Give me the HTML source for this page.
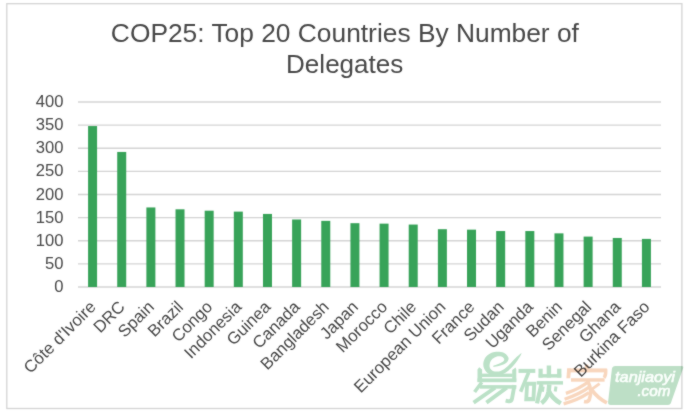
<!DOCTYPE html>
<html><head><meta charset="utf-8"><title>COP25 chart</title>
<style>html,body{margin:0;padding:0;background:#fff;}svg{display:block;}text{font-family:"Liberation Sans",sans-serif;fill:#484848;}</style></head><body>
<svg width="690" height="415" viewBox="0 0 690 415">
<defs><filter id="soft" x="0" y="0" width="690" height="415" filterUnits="userSpaceOnUse" color-interpolation-filters="sRGB"><feConvolveMatrix order="3" kernelMatrix="1 2 1 2 20 2 1 2 1" divisor="32" edgeMode="duplicate" preserveAlpha="true"/></filter></defs>
<g filter="url(#soft)">
<rect x="0" y="0" width="690" height="415" fill="#ffffff"/>
<rect x="6.8" y="3.7" width="675.1" height="404.8" fill="none" stroke="#d4d4d4" stroke-width="1.3"/>
<text x="344.9" y="42.3" font-size="26.35" text-anchor="middle">COP25: Top 20 Countries By Number of</text>
<text x="344.7" y="72.5" font-size="26.05" text-anchor="middle">Delegates</text>
<line x1="78.0" y1="287.00" x2="661.0" y2="287.00" stroke="#d4d4d4" stroke-width="1.3"/>
<text x="63.5" y="292.10" font-size="16.6" text-anchor="end">0</text>
<line x1="78.0" y1="263.88" x2="661.0" y2="263.88" stroke="#d4d4d4" stroke-width="1.3"/>
<text x="63.5" y="268.98" font-size="16.6" text-anchor="end">50</text>
<line x1="78.0" y1="240.75" x2="661.0" y2="240.75" stroke="#d4d4d4" stroke-width="1.3"/>
<text x="63.5" y="245.85" font-size="16.6" text-anchor="end">100</text>
<line x1="78.0" y1="217.62" x2="661.0" y2="217.62" stroke="#d4d4d4" stroke-width="1.3"/>
<text x="63.5" y="222.72" font-size="16.6" text-anchor="end">150</text>
<line x1="78.0" y1="194.50" x2="661.0" y2="194.50" stroke="#d4d4d4" stroke-width="1.3"/>
<text x="63.5" y="199.60" font-size="16.6" text-anchor="end">200</text>
<line x1="78.0" y1="171.38" x2="661.0" y2="171.38" stroke="#d4d4d4" stroke-width="1.3"/>
<text x="63.5" y="176.47" font-size="16.6" text-anchor="end">250</text>
<line x1="78.0" y1="148.25" x2="661.0" y2="148.25" stroke="#d4d4d4" stroke-width="1.3"/>
<text x="63.5" y="153.35" font-size="16.6" text-anchor="end">300</text>
<line x1="78.0" y1="125.12" x2="661.0" y2="125.12" stroke="#d4d4d4" stroke-width="1.3"/>
<text x="63.5" y="130.22" font-size="16.6" text-anchor="end">350</text>
<line x1="78.0" y1="102.00" x2="661.0" y2="102.00" stroke="#d4d4d4" stroke-width="1.3"/>
<text x="63.5" y="107.10" font-size="16.6" text-anchor="end">400</text>
<rect x="88.08" y="126.05" width="9.00" height="160.95" fill="#38a359"/>
<rect x="117.22" y="151.95" width="9.00" height="135.05" fill="#38a359"/>
<rect x="146.38" y="207.45" width="9.00" height="79.55" fill="#38a359"/>
<rect x="175.52" y="209.30" width="9.00" height="77.70" fill="#38a359"/>
<rect x="204.67" y="210.69" width="9.00" height="76.31" fill="#38a359"/>
<rect x="233.82" y="211.61" width="9.00" height="75.39" fill="#38a359"/>
<rect x="262.98" y="213.93" width="9.00" height="73.08" fill="#38a359"/>
<rect x="292.12" y="219.48" width="9.00" height="67.52" fill="#38a359"/>
<rect x="321.27" y="220.86" width="9.00" height="66.14" fill="#38a359"/>
<rect x="350.43" y="223.18" width="9.00" height="63.82" fill="#38a359"/>
<rect x="379.57" y="223.64" width="9.00" height="63.36" fill="#38a359"/>
<rect x="408.72" y="224.56" width="9.00" height="62.44" fill="#38a359"/>
<rect x="437.88" y="229.19" width="9.00" height="57.81" fill="#38a359"/>
<rect x="467.02" y="229.65" width="9.00" height="57.35" fill="#38a359"/>
<rect x="496.17" y="231.04" width="9.00" height="55.96" fill="#38a359"/>
<rect x="525.33" y="231.04" width="9.00" height="55.96" fill="#38a359"/>
<rect x="554.47" y="233.35" width="9.00" height="53.65" fill="#38a359"/>
<rect x="583.62" y="236.59" width="9.00" height="50.41" fill="#38a359"/>
<rect x="612.77" y="237.97" width="9.00" height="49.03" fill="#38a359"/>
<rect x="641.92" y="238.90" width="9.00" height="48.10" fill="#38a359"/>
<text transform="translate(96.78,308.00) rotate(-45)" font-size="16.8" text-anchor="end">Côte d'Ivoire</text>
<text transform="translate(125.92,308.00) rotate(-45)" font-size="16.8" text-anchor="end">DRC</text>
<text transform="translate(155.07,308.00) rotate(-45)" font-size="16.8" text-anchor="end">Spain</text>
<text transform="translate(184.22,308.00) rotate(-45)" font-size="16.8" text-anchor="end">Brazil</text>
<text transform="translate(213.37,308.00) rotate(-45)" font-size="16.8" text-anchor="end">Congo</text>
<text transform="translate(242.52,308.00) rotate(-45)" font-size="16.8" text-anchor="end">Indonesia</text>
<text transform="translate(271.68,308.00) rotate(-45)" font-size="16.8" text-anchor="end">Guinea</text>
<text transform="translate(300.82,308.00) rotate(-45)" font-size="16.8" text-anchor="end">Canada</text>
<text transform="translate(329.97,308.00) rotate(-45)" font-size="16.8" text-anchor="end">Bangladesh</text>
<text transform="translate(359.12,308.00) rotate(-45)" font-size="16.8" text-anchor="end">Japan</text>
<text transform="translate(388.27,308.00) rotate(-45)" font-size="16.8" text-anchor="end">Morocco</text>
<text transform="translate(417.42,308.00) rotate(-45)" font-size="16.8" text-anchor="end">Chile</text>
<text transform="translate(446.57,308.00) rotate(-45)" font-size="16.8" text-anchor="end">European Union</text>
<text transform="translate(475.72,308.00) rotate(-45)" font-size="16.8" text-anchor="end">France</text>
<text transform="translate(504.87,308.00) rotate(-45)" font-size="16.8" text-anchor="end">Sudan</text>
<text transform="translate(534.03,308.00) rotate(-45)" font-size="16.8" text-anchor="end">Uganda</text>
<text transform="translate(563.17,308.00) rotate(-45)" font-size="16.8" text-anchor="end">Benin</text>
<text transform="translate(592.33,308.00) rotate(-45)" font-size="16.8" text-anchor="end">Senegal</text>
<text transform="translate(621.48,308.00) rotate(-45)" font-size="16.8" text-anchor="end">Ghana</text>
<text transform="translate(650.62,308.00) rotate(-45)" font-size="16.8" text-anchor="end">Burkina Faso</text>
<g id="wm" style="mix-blend-mode:multiply">
<path d="M 521.57,353.21 C 521.72,353.76 519.19,357.91 517.67,360.15 C 516.15,362.40 514.48,364.57 512.46,366.66 C 510.43,368.76 507.97,371.22 505.51,372.74 C 503.05,374.26 500.45,375.56 497.70,375.78 C 494.95,375.99 491.26,375.20 489.02,374.04 C 486.78,372.88 485.19,370.71 484.25,368.83 C 483.31,366.95 483.09,364.78 483.38,362.76 C 483.67,360.73 484.61,358.34 485.98,356.68 C 487.36,355.02 489.67,353.61 491.62,352.77 C 493.58,351.94 495.68,351.65 497.70,351.65 C 499.73,351.65 502.11,352.01 503.78,352.77 C 505.44,353.54 506.89,355.16 507.68,356.25 C 508.48,357.33 508.77,358.20 508.55,359.28 C 508.34,360.37 507.61,361.74 506.38,362.76 C 505.15,363.77 503.13,364.70 501.17,365.36 C 499.22,366.03 496.02,366.63 494.66,366.75 C 493.30,366.87 493.01,366.32 493.01,366.06 C 493.01,365.80 493.59,365.62 494.66,365.19 C 495.73,364.75 497.95,364.15 499.44,363.45 C 500.93,362.76 502.85,361.86 503.60,361.02 C 504.36,360.18 504.36,359.18 503.95,358.42 C 503.55,357.65 502.36,356.75 501.17,356.42 C 499.99,356.09 498.28,356.02 496.83,356.42 C 495.39,356.83 493.65,357.72 492.49,358.85 C 491.34,359.98 490.32,361.70 489.89,363.19 C 489.45,364.68 489.38,366.50 489.89,367.79 C 490.40,369.08 491.48,370.31 492.93,370.92 C 494.37,371.52 496.62,371.81 498.57,371.44 C 500.52,371.06 502.62,370.03 504.65,368.66 C 506.67,367.29 508.70,365.16 510.72,363.19 C 512.75,361.22 514.99,358.52 516.80,356.85 C 518.61,355.19 521.43,352.66 521.57,353.21 Z" fill="#bbe1c7"/>
<polygon points="477.5,381.7 477.5,369.5 479.2,367.2 482.1,369.5 482.1,381.7" fill="#bbe1c7"/>
<polygon points="512.2,381.7 512.2,370.0 515.6,367.6 516.3,369.5 516.3,381.7" fill="#bbe1c7"/>
<rect x="477.5" y="378.4" width="38.8" height="3.8" fill="#bbe1c7"/>
<rect x="481.6" y="373.6" width="31" height="3.4" fill="#bbe1c7"/>
<line x1="481.8" y1="382.2" x2="474.6" y2="392.0" stroke="#bbe1c7" stroke-width="3.6" stroke-linecap="butt"/>
<rect x="480" y="385.1" width="36.3" height="3.6" fill="#bbe1c7"/>
<path d="M 514.5,385.1 L 512.0,398.6 Q 511.4,401.6 508.6,401.3 L 505.6,400.6" fill="none" stroke="#bbe1c7" stroke-width="3.9" stroke-linecap="butt" stroke-linejoin="round"/>
<line x1="495.2" y1="387.6" x2="473.6" y2="402.6" stroke="#bbe1c7" stroke-width="3.8" stroke-linecap="butt"/>
<line x1="506.8" y1="387.6" x2="486.4" y2="402.6" stroke="#bbe1c7" stroke-width="3.8" stroke-linecap="butt"/>
<rect x="518.5" y="368.9" width="16.8" height="4.0" fill="#bbe1c7"/>
<line x1="528.6" y1="372.5" x2="520.6" y2="391.8" stroke="#bbe1c7" stroke-width="3.6" stroke-linecap="butt"/>
<path d="M 525.4,381.7 L 536.4,381.7 L 535.2,401.3 L 524.2,401.3 Z M 528.9,385.7 L 528.3,397.0 L 531.6,397.0 L 532.2,385.7 Z" fill="#bbe1c7" fill-rule="evenodd"/>
<rect x="538.5" y="368.7" width="4.2" height="8.9" fill="#bbe1c7"/>
<rect x="546.7" y="365.5" width="4.4" height="12.1" fill="#bbe1c7"/>
<rect x="557.1" y="368.7" width="4.3" height="8.9" fill="#bbe1c7"/>
<rect x="538.7" y="374.1" width="22.5" height="3.5" fill="#bbe1c7"/>
<rect x="536.8" y="381.1" width="26.2" height="3.5" fill="#bbe1c7"/>
<line x1="541.5" y1="384.0" x2="537.0" y2="403.4" stroke="#bbe1c7" stroke-width="4.2" stroke-linecap="butt"/>
<path d="M 549.3,384.6 L 548.6,391.5 Q 547.5,398.5 541.5,403.2" fill="none" stroke="#bbe1c7" stroke-width="4.5" stroke-linecap="butt" stroke-linejoin="round"/>
<path d="M 548.8,391.0 Q 552.0,398.5 560.8,403.4" fill="none" stroke="#bbe1c7" stroke-width="4.5" stroke-linecap="butt" stroke-linejoin="round"/>
<line x1="543.2" y1="386.6" x2="542.4" y2="391.8" stroke="#bbe1c7" stroke-width="3.0" stroke-linecap="butt"/>
<line x1="556.0" y1="386.6" x2="555.2" y2="391.4" stroke="#bbe1c7" stroke-width="3.0" stroke-linecap="butt"/>
<rect x="567.2" y="368.4" width="39.6" height="4.0" fill="#f8d6bd"/>
<line x1="586.6" y1="364.6" x2="586.6" y2="369.0" stroke="#f8d6bd" stroke-width="3.6" stroke-linecap="butt"/>
<polygon points="567.2,368.4 571.0,368.4 570.2,378.2 566.4,378.2" fill="#f8d6bd"/>
<path d="M 605.6,369.0 Q 606.4,374.0 604.2,377.8" fill="none" stroke="#f8d6bd" stroke-width="3.4" stroke-linecap="butt" stroke-linejoin="round"/>
<rect x="571.0" y="378.2" width="33.6" height="3.5" fill="#f8d6bd"/>
<path d="M 589.0,381.2 Q 580.0,388.5 565.9,393.4" fill="none" stroke="#f8d6bd" stroke-width="3.3" stroke-linecap="butt" stroke-linejoin="round"/>
<path d="M 589.6,386.9 Q 579.0,394.5 564.6,399.2" fill="none" stroke="#f8d6bd" stroke-width="3.3" stroke-linecap="butt" stroke-linejoin="round"/>
<path d="M 589.0,392.6 Q 578.0,400.0 563.6,403.8" fill="none" stroke="#f8d6bd" stroke-width="3.3" stroke-linecap="butt" stroke-linejoin="round"/>
<path d="M 588.0,381.5 Q 592.5,391.0 589.3,399.5 Q 588.2,402.4 584.0,401.6" fill="none" stroke="#f8d6bd" stroke-width="3.6" stroke-linecap="butt" stroke-linejoin="round"/>
<line x1="599.6" y1="383.6" x2="591.6" y2="389.4" stroke="#f8d6bd" stroke-width="3.0" stroke-linecap="butt"/>
<path d="M 591.6,389.6 Q 597.5,398.0 606.9,402.8" fill="none" stroke="#f8d6bd" stroke-width="3.6" stroke-linecap="butt" stroke-linejoin="round"/>
<path d="M 615.4,365.9 L 681.5,365.9 Q 683.9,365.9 683.1,368.2 L 670.8,403.2 Q 670.1,405.0 668.0,405.0 L 610.8,405.0 Q 607.8,405.0 608.1,402.0 L 611.9,369.0 Q 612.3,365.9 615.4,365.9 Z" fill="#bddfc6"/>
<text x="615.0" y="382.4" font-size="14.4" font-style="italic" textLength="60" lengthAdjust="spacingAndGlyphs" style="fill:#fbfffc;stroke:#fbfffc;stroke-width:0.6">tanjiaoyi</text>
<text x="637.4" y="395.9" font-size="14.4" font-style="italic" textLength="33" lengthAdjust="spacingAndGlyphs" style="fill:#fbfffc;stroke:#fbfffc;stroke-width:0.6">.com</text>
</g>
</g></svg></body></html>
